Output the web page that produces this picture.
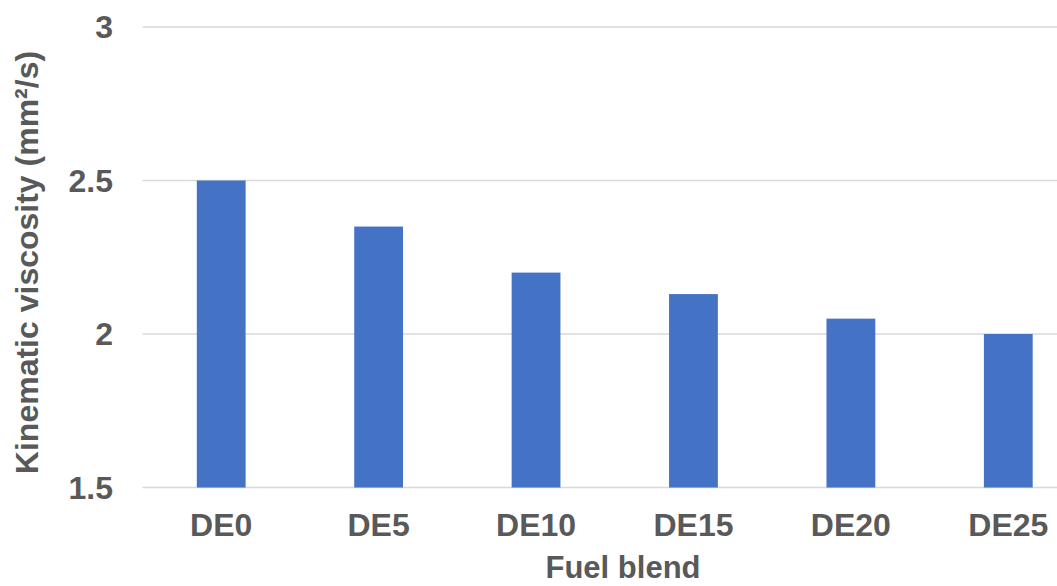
<!DOCTYPE html>
<html>
<head>
<meta charset="utf-8">
<script src="https://cdn.jsdelivr.net/npm/d3@7"></script>
<style>
  body { margin: 0; background: #fff; }
  svg { display: block; font-family: 'Liberation Sans', Arial, sans-serif; }
</style>
</head>
<body>
<div id="chart"></div>
<script>
const blends = ['DE0', 'DE5', 'DE10', 'DE15', 'DE20', 'DE25'];
const viscosity = [2.5, 2.35, 2.2, 2.13, 2.05, 2.0];
const yTicks = [1.5, 2, 2.5, 3];

const size = { width: 1057, height: 586 };
const margin = { top: 27, right: -30, bottom: 98.5, left: 142.5 };

const svg = d3
  .select('#chart')
  .append('svg')
  .attr('width', size.width)
  .attr('height', size.height);

const y = d3
  .scaleLinear()
  .domain([1.5, 3])
  .range([size.height - margin.bottom, margin.top]);

const x = d3
  .scaleBand()
  .domain(blends)
  .range([margin.left, size.width - margin.right])
  .paddingInner(0.69)
  .paddingOuter(0.345);

// gridlines + y tick labels
yTicks.forEach((t) => {
  svg
    .append('line')
    .attr('x1', margin.left)
    .attr('x2', size.width - margin.right)
    .attr('y1', y(t))
    .attr('y2', y(t))
    .attr('stroke', '#d9d9d9')
    .attr('stroke-width', 1.5);

  svg
    .append('text')
    .text(t)
    .attr('x', 113)
    .attr('y', y(t))
    .attr('dy', '0.35em')
    .attr('text-anchor', 'end')
    .attr('fill', '#595959')
    .attr('font-size', '32px')
    .attr('font-weight', 'bold');
});

svg
  .selectAll('.bar')
  .data(blends)
  .enter()
  .append('rect')
  .attr('class', 'bar')
  .attr('x', (d) => x(d))
  .attr('width', x.bandwidth())
  .attr('y', (d, i) => y(viscosity[i]))
  .attr('height', (d, i) => y(1.5) - y(viscosity[i]))
  .attr('fill', '#4472c4');

svg
  .selectAll('.xlab')
  .data(blends)
  .enter()
  .append('text')
  .attr('class', 'xlab')
  .text((d) => d)
  .attr('x', (d) => x(d) + x.bandwidth() / 2)
  .attr('y', 536)
  .attr('text-anchor', 'middle')
  .attr('fill', '#595959')
  .attr('font-size', '32px')
  .attr('font-weight', 'bold');

svg
  .append('text')
  .text('Fuel blend')
  .attr('x', 623)
  .attr('y', 578)
  .attr('text-anchor', 'middle')
  .attr('fill', '#595959')
  .attr('font-size', '31px')
  .attr('font-weight', 'bold');

svg
  .append('text')
  .text('Kinematic viscosity (mm²/s)')
  .attr('transform', 'translate(38, 262.5) rotate(-90)')
  .attr('text-anchor', 'middle')
  .attr('fill', '#595959')
  .attr('font-size', '32px')
  .attr('font-weight', 'bold');
</script>
</body>
</html>
